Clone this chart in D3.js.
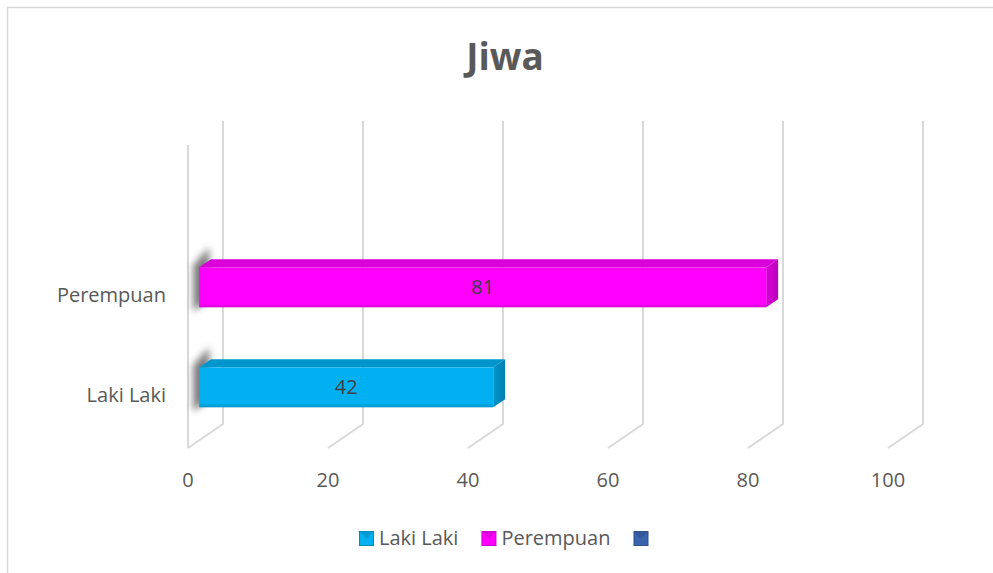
<!DOCTYPE html>
<html>
<head>
<meta charset="utf-8">
<script src="https://cdn.jsdelivr.net/npm/d3@7/dist/d3.min.js"></script>
<style>
  body { margin: 0; background: #fff; }
  text { font-family: "Open Sans", sans-serif; fill: #595959; }
</style>
</head>
<body>
<div id="chart"></div>
<script>
// data
var categories = ["Laki Laki", "Perempuan"];
var values = [42, 81];
var barColors = ["#00B0F0", "#FF00FF"];
var legendNames = ["Laki Laki", "Perempuan", ""];
var legendColors = ["#00B0F0", "#FF00FF", "#3A64AE"];
var xTicks = [0, 20, 40, 60, 80, 100];
var title = "Jiwa";

var width = 993, height = 573;
var depth = {dx: 35, dy: -24},
    barFront = 0.32, barBack = 0.66;

var svg = d3.select("#chart")
  .append("svg")
  .attr("width", width)
  .attr("height", height);

var defs = svg.append("defs");
defs.append("filter").attr("id", "blur")
  .attr("x", "-100%").attr("y", "-50%").attr("width", "300%").attr("height", "200%")
  .append("feGaussianBlur").attr("stdDeviation", 3.5);

function shade(c, k) { return d3.color(c).darker(k).formatHex(); }

barColors.concat(legendColors).forEach(function(c, i) {
  var g = defs.append("linearGradient").attr("id", "side" + i)
    .attr("x1", 0).attr("x2", 1).attr("y1", 0).attr("y2", 0);
  g.append("stop").attr("offset", 0).attr("stop-color", shade(c, 0.45));
  g.append("stop").attr("offset", 1).attr("stop-color", shade(c, 0.9));
  var f = defs.append("linearGradient").attr("id", "front" + i)
    .attr("x1", 0).attr("x2", 0).attr("y1", 0).attr("y2", 1);
  f.append("stop").attr("offset", 0).attr("stop-color", c);
  f.append("stop").attr("offset", 0.9).attr("stop-color", c);
  f.append("stop").attr("offset", 1).attr("stop-color", shade(c, 0.5));
});

// chart border
svg.append("rect")
  .attr("x", 7.5).attr("y", 7.5)
  .attr("width", width).attr("height", height)
  .attr("fill", "none").attr("stroke", "#d9d9d9").attr("stroke-width", 1.5);

svg.append("text")
  .attr("x", 505).attr("y", 70)
  .attr("text-anchor", "middle")
  .style("font-size", "37px").style("font-weight", "bold")
  .text(title);

// scales on the front plane
var x = d3.scaleLinear().domain([0, 100]).range([188, 888]);
var y = d3.scaleBand().domain(categories).range([445, 245]).paddingInner(0.6).paddingOuter(0.3);
var floorY = 448, topY = 145;

var grid = svg.append("g").attr("class", "grid")
  .attr("stroke", "#d9d9d9").attr("stroke-width", 2).attr("fill", "none");

// back wall verticals and floor lines
xTicks.forEach(function(t) {
  grid.append("path").attr("d", d3.line()([
    [x(t), floorY],
    [x(t) + depth.dx, floorY + depth.dy],
    [x(t) + depth.dx, topY + depth.dy]
  ]));
});
// left wall front edge
grid.append("line")
  .attr("x1", x(0)).attr("x2", x(0))
  .attr("y1", topY).attr("y2", floorY);

// axis labels
svg.append("g").selectAll("text")
  .data(xTicks).enter().append("text")
  .attr("x", function(d) { return x(d); })
  .attr("y", 487)
  .attr("text-anchor", "middle")
  .style("font-size", "20px")
  .text(function(d) { return d; });

svg.append("g").selectAll("text")
  .data(categories).enter().append("text")
  .attr("x", 166)
  .attr("y", function(d) { return y(d) + y.bandwidth() / 2 + 7; })
  .attr("text-anchor", "end")
  .style("font-size", "20px")
  .text(function(d) { return d; });

// bars
var fx = depth.dx * barFront, fy = depth.dy * barFront,
    bx = depth.dx * barBack, by = depth.dy * barBack;

var bars = svg.append("g").selectAll("g")
  .data(categories).enter().append("g");

bars.each(function(d, i) {
  var g = d3.select(this);
  var x0 = x(0) + fx, x1 = x(values[i]) + fx,
      y0 = y(d) + fy, y1 = y(d) + y.bandwidth() + fy,
      ddx = bx - fx, ddy = by - fy;
  // shadow on the left wall
  g.append("path")
    .attr("d", d3.line()([[x0 - 6, y0 - 2], [x0 + ddx - 2, y0 + ddy - 12], [x0 + ddx - 2, y1 + ddy], [x0 - 6, y1 + 4]]) + "Z")
    .attr("fill", "#505050").attr("opacity", 0.75)
    .attr("filter", "url(#blur)");
  // top
  g.append("path")
    .attr("d", d3.line()([[x0, y0], [x0 + ddx, y0 + ddy], [x1 + ddx, y0 + ddy], [x1, y0]]) + "Z")
    .attr("fill", shade(barColors[i], 0.45));
  // side
  g.append("path")
    .attr("d", d3.line()([[x1, y0], [x1 + ddx, y0 + ddy], [x1 + ddx, y1 + ddy], [x1, y1]]) + "Z")
    .attr("fill", "url(#side" + i + ")");
  // front
  g.append("rect")
    .attr("x", x0).attr("y", y0)
    .attr("width", x1 - x0).attr("height", y1 - y0)
    .attr("fill", "url(#front" + i + ")");
  g.append("text")
    .attr("x", (x0 + x1) / 2)
    .attr("y", (y0 + y1) / 2 + 7)
    .attr("text-anchor", "middle")
    .style("font-size", "20px")
    .style("fill", "#404040")
    .text(values[i]);
});

// legend
var legend = svg.append("g").attr("transform", "translate(359,531)");
var lx = 0;
legendNames.forEach(function(name, i) {
  var item = legend.append("g").attr("transform", "translate(" + lx + ",0)");
  var c = legendColors[i];
  item.append("rect").attr("width", 15).attr("height", 15).attr("fill", shade(c, 0.6));
  item.append("rect").attr("x", 1).attr("y", 1).attr("width", 13).attr("height", 13).attr("fill", c);
  item.append("path")
    .attr("d", "M1,1L14,1L7.5,8Z")
    .attr("fill", shade(c, 0.35));
  var t = item.append("text")
    .attr("x", 20).attr("y", 14)
    .style("font-size", "20px")
    .text(name);
  var w = name ? t.node().getComputedTextLength() : 0;
  lx += 20 + w + 23;
});
</script>
</body>
</html>
